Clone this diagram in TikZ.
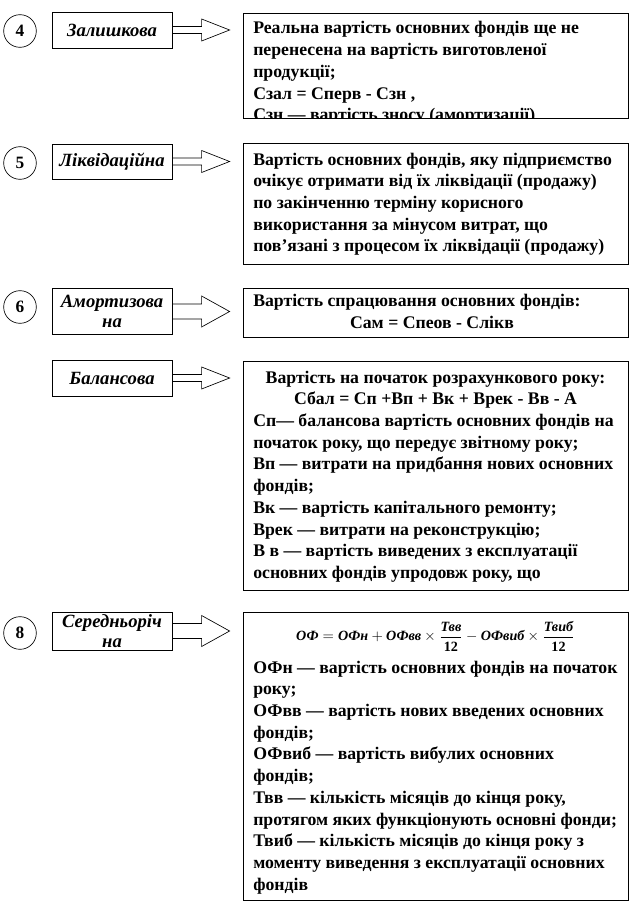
\documentclass[tikz,border=0pt]{standalone}
\usepackage{fontspec}
\usepackage{amsmath}
\setmainfont{Liberation Serif}
\usetikzlibrary{calc}
\newcommand\fbi[1]{\text{\bfseries\itshape #1}}
\tikzset{
 numcirc/.style={draw, circle, line width=0.5pt, minimum size=24.5pt, inner sep=0pt, font=\fontsize{13}{15}\selectfont\bfseries},
 labbox/.style={draw, rectangle, line width=0.6pt, fill=white, minimum width=90pt, inner sep=1pt, align=center, font=\fontsize{14}{15.5}\selectfont\bfseries\itshape},
 infobox/.style={draw, rectangle, line width=0.6pt, minimum width=288.75pt, inner sep=0pt},
 bodytext/.style={inner sep=0pt, anchor=base west, font=\fontsize{13.3}{16.3}\selectfont\bfseries},
 ctext/.style={inner sep=0pt, anchor=base, font=\fontsize{13.3}{16.3}\selectfont\bfseries},
 blockarr/.style={draw, line width=0.5pt, fill=white},
}
% #1 label node, #2 box node, #3 half shaft, #4 half head
\newcommand\blockarrow[4]{%
 \path (#1.east) coordinate (s) (#1.east -| #2.west) coordinate (e);
 \draw[blockarr] ($(s)+(0,-#3)$) -- ($(e)+(-41,-#3)$) -- ($(e)+(-41,-#4)$) -- ($(e)+(-13,0)$) -- ($(e)+(-41,#4)$) -- ($(e)+(-41,#3)$) -- ($(s)+(0,#3)$);}
\begin{document}
\begin{tikzpicture}[x=0.75pt,y=-0.75pt]
\fill[white] (0,0) rectangle (639,924);
\path[use as bounding box] (0,0) rectangle (639,924);

% ---------- 4 ----------
\node[numcirc] (C4) at (20,31) {4};
\node[infobox, minimum height=78.75pt] (B4) at (435.5,65.5) {};
\node[labbox, minimum height=27pt] (L4) at (112,30) {Залишкова};
\blockarrow{L4}{B4}{3.5}{11}
\node[labbox, minimum height=27pt] at (L4) {Залишкова};
\begin{scope}
\clip (B4.north west) rectangle (B4.south east);
\node[bodytext] (T4) at (253,34) {\begin{tabular}[t]{@{}l@{}}
Реальна вартість основних фондів ще не\\
перенесена на вартість виготовленої\\
продукції;\\
Сзал = Сперв - Сзн ,\\
Сзн — вартість зносу (амортизації)
\end{tabular}};
\end{scope}

% ---------- 5 ----------
\node[numcirc] (C5) at (20,163) {5};
\node[infobox, minimum height=90.75pt] (B5) at (435.5,203.5) {};
\node[labbox, minimum height=26.25pt] (L5) at (112,161.5) {Ліквідаційна};
\blockarrow{L5}{B5}{3.5}{11}
\node[labbox, minimum height=26.25pt] at (L5) {Ліквідаційна};
\node[bodytext] (T5) at (253,165) {\begin{tabular}[t]{@{}l@{}}
Вартість основних фондів, яку підприємство\\
очікує отримати від їх ліквідації (продажу)\\
по закінченню терміну корисного\\
використання за мінусом витрат, що\\
пов'язані з процесом їх ліквідації (продажу)
\end{tabular}};

% ---------- 6 ----------
\node[numcirc] (C6) at (20,307) {6};
\node[infobox, minimum height=36.75pt] (B6) at (435.5,312.5) {};
\node[labbox, minimum height=35pt] (L6) at (112,311.5) {Амортизова\\на};
\blockarrow{L6}{B6}{7.5}{15.5}
\node[labbox, minimum height=35pt] at (L6) {Амортизова\\на};
\node[bodytext] (T6) at (253,306) {Вартість спрацювання основних фондів:};
\node[ctext] (T6b) at (432,328) {Сам = Спеов - Слікв};

% ---------- Балансова ----------
\node[infobox, minimum height=171.75pt] (BB) at (435.5,475.5) {};
\node[labbox, minimum height=27pt] (LB) at (112,378) {Балансова};
\blockarrow{LB}{BB}{3.5}{11}
\node[labbox, minimum height=27pt] at (LB) {Балансова};
\node[ctext] (TBa) at (435.5,383) {\begin{tabular}[t]{@{}c@{}}
Вартість на початок розрахункового року:\\
Сбал = Сп +Вп + Вк + Врек - Вв - А
\end{tabular}};
\node[bodytext] (TB) at (253,426.5) {\begin{tabular}[t]{@{}l@{}}
Сп— балансова вартість основних фондів на\\
початок року, що передує звітному року;\\
Вп — витрати на придбання нових основних\\
фондів;\\
Вк — вартість капітального ремонту;\\
Врек — витрати на реконструкцію;\\
В в — вартість виведених з експлуатації\\
основних фондів упродовж року, що
\end{tabular}};

% ---------- 8 ----------
\node[numcirc] (C8) at (20,633) {8};
\node[infobox, minimum height=216pt] (B8) at (435.5,756) {};
\node[labbox, minimum height=28.5pt] (L8) at (112,631) {Середньоріч\\на};
\blockarrow{L8}{B8}{7.5}{15.5}
\node[labbox, minimum height=28.5pt] at (L8) {Середньоріч\\на};
\node[font=\fontsize{10.6}{13}\selectfont, inner sep=0pt] (F8) at (435.5,636) {$\fbi{ОФ} = \fbi{ОФн} + \fbi{ОФвв}\times\dfrac{\fbi{Твв}}{\textbf{12}} - \fbi{ОФвиб}\times\dfrac{\fbi{Твиб}}{\textbf{12}}$};
\node[bodytext] (T8) at (253,673) {\begin{tabular}[t]{@{}l@{}}
ОФн — вартість основних фондів на початок\\
року;\\
ОФвв — вартість нових введених основних\\
фондів;\\
ОФвиб — вартість вибулих основних\\
фондів;\\
Твв — кількість місяців до кінця року,\\
протягом яких функціонують основні фонди;\\
Твиб — кількість місяців до кінця року з\\
моменту виведення з експлуатації основних\\
фондів
\end{tabular}};
\end{tikzpicture}
\end{document}
